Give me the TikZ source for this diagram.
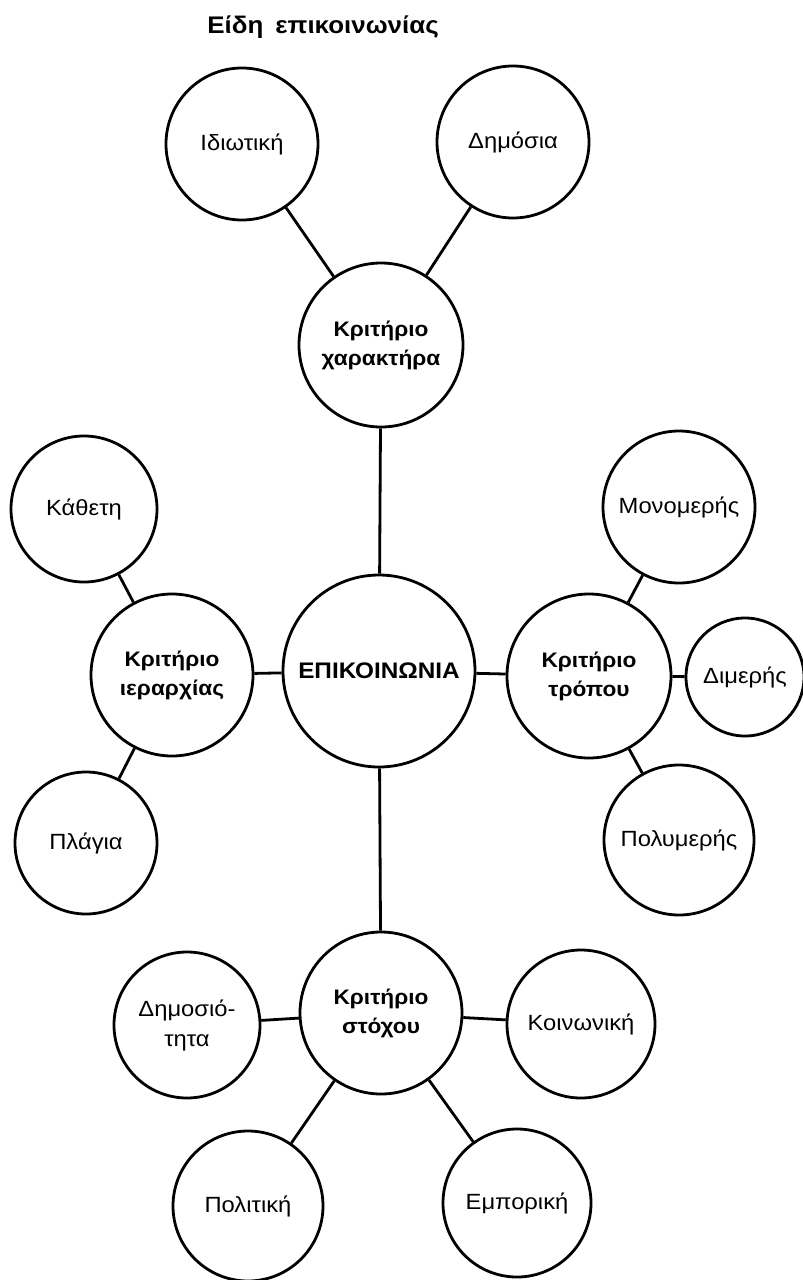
\documentclass[tikz,border=0pt]{standalone}
\usepackage{fontspec}
\setmainfont{Liberation Sans}[FakeStretch=1.08]
\begin{document}
\begin{tikzpicture}[x=1pt,y=-1pt,
  bub/.style={circle,draw,line width=2.8pt,inner sep=0pt,align=center,font=\fontsize{22}{30}\selectfont},
  crit/.style={bub,font=\fontsize{21}{29}\selectfont\bfseries},
  link/.style={line width=2.8pt}]
\fill[white] (0,0) rectangle (803,1280);
\useasboundingbox (0,0) rectangle (803,1280);

\node[font=\fontsize{24}{28}\selectfont\bfseries] (title) at (323,27) {Είδη\hspace{0.5em}επικοινωνίας};

\node[bub,minimum size=152pt] (idi) at (242,144) {Ιδιωτική};
\node[bub,minimum size=152pt] (dim) at (513,142) {Δημόσια};
\node[crit,minimum size=164pt] (xar) at (381,345) {Κριτήριο\\χαρακτήρα};

\node[bub,minimum size=146pt] (kat) at (84,509) {Κάθετη};
\node[crit,minimum size=162pt] (ier) at (172,675) {Κριτήριο\\ιεραρχίας};
\node[bub,minimum size=142pt] (pla) at (86,843) {Πλάγια};

\node[crit,minimum size=192pt,font=\fontsize{22.5}{29}\selectfont\bfseries] (epi) at (379,671) {ΕΠΙΚΟΙΝΩΝΙΑ};

\node[crit,minimum size=164pt] (tro) at (589,676) {Κριτήριο\\τρόπου};
\node[bub,minimum size=152pt] (mon) at (679,507) {Μονομερής};
\node[bub,minimum size=118pt] (dime) at (745,677) {Διμερής};
\node[bub,minimum size=150pt] (pol) at (679,840) {Πολυμερής};

\node[crit,minimum size=162pt] (sto) at (381,1013) {Κριτήριο\\στόχου};
\node[bub,minimum size=146pt] (dimo) at (187,1025) {Δημοσιό-\\τητα};
\node[bub,minimum size=148pt] (koi) at (581,1024) {Κοινωνική};
\node[bub,minimum size=150pt] (polit) at (248,1206) {Πολιτική};
\node[bub,minimum size=148pt] (emp) at (517,1203) {Εμπορική};

\draw[link] (idi) -- (xar);
\draw[link] (dim) -- (xar);
\draw[link] (xar) -- (epi);
\draw[link] (kat) -- (ier);
\draw[link] (pla) -- (ier);
\draw[link] (ier) -- (epi);
\draw[link] (epi) -- (tro);
\draw[link] (tro) -- (mon);
\draw[link] (tro) -- (dime);
\draw[link] (tro) -- (pol);
\draw[link] (epi) -- (sto);
\draw[link] (sto) -- (dimo);
\draw[link] (sto) -- (koi);
\draw[link] (sto) -- (polit);
\draw[link] (sto) -- (emp);
\end{tikzpicture}
\end{document}
